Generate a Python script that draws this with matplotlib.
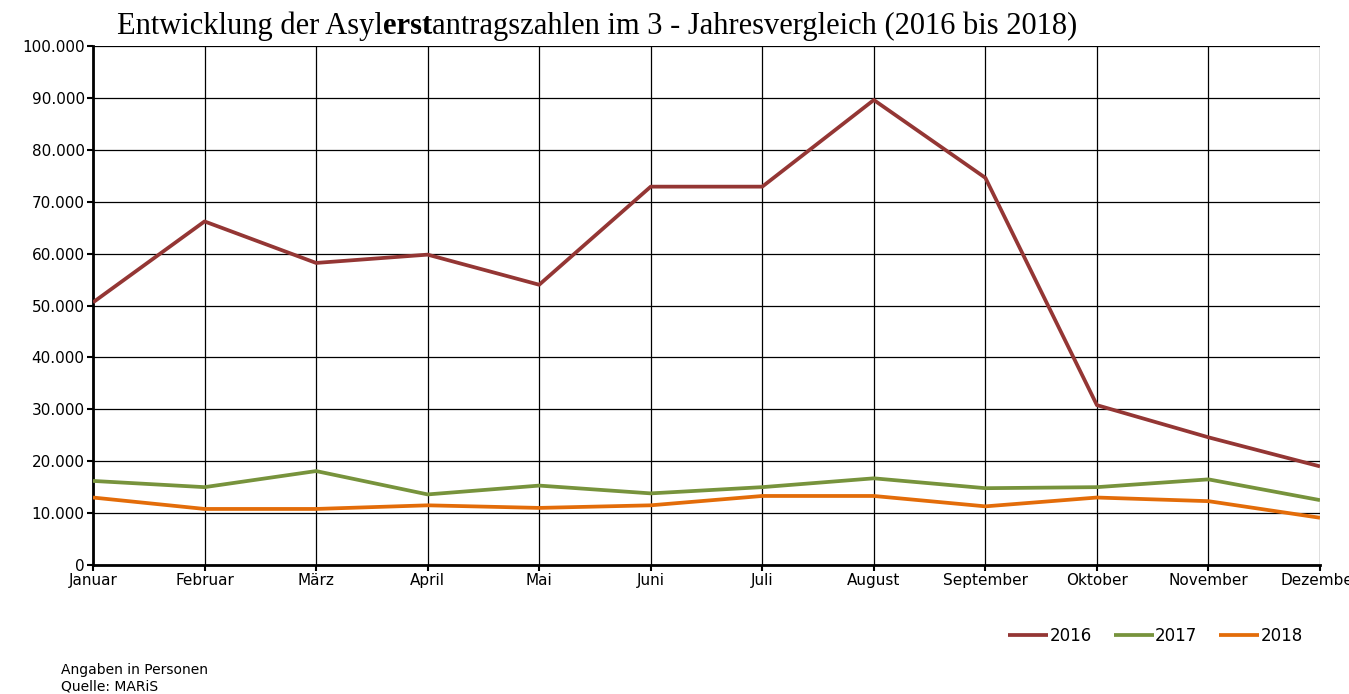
import matplotlib.pyplot as plt
from matplotlib.ticker import FuncFormatter, MultipleLocator

months = ["Januar", "Februar", "März", "April", "Mai", "Juni", "Juli",
          "August", "September", "Oktober", "November", "Dezember"]
y2016 = [50600, 66200, 58200, 59800, 54000, 72900, 72900, 89600, 74600, 30800, 24600, 19000]
y2017 = [16200, 15000, 18100, 13600, 15300, 13800, 15000, 16700, 14800, 15000, 16500, 12500]
y2018 = [13000, 10800, 10800, 11500, 11000, 11500, 13300, 13300, 11300, 13000, 12300, 9100]

colors = {"2016": "#943634", "2017": "#77933C", "2018": "#E36C09"}

fig = plt.figure(figsize=(13.49, 6.94), dpi=100)
ax = fig.add_axes([93 / 1349, 1 - 565 / 694, 1227 / 1349, 519 / 694])

x = list(range(len(months)))
for label, vals in [("2016", y2016), ("2017", y2017), ("2018", y2018)]:
    ax.plot(x, vals, color=colors[label], lw=2.7, label=label, solid_capstyle="butt", zorder=3)

ax.set_xlim(0, 11)
ax.set_ylim(0, 100000)
ax.yaxis.set_major_locator(MultipleLocator(10000))
ax.yaxis.set_major_formatter(FuncFormatter(lambda v, p: f"{int(v):,}".replace(",", ".")))
ax.set_xticks(x)
ax.set_xticklabels(months)
ax.grid(True, color="black", lw=0.9)
ax.set_axisbelow(True)

for s in ["top", "right"]:
    ax.spines[s].set_visible(False)
ax.spines["left"].set_linewidth(2)
ax.spines["bottom"].set_linewidth(2)
ax.tick_params(axis="both", length=4, width=1.5, labelsize=11, pad=2, direction="out")
# the last month label runs off the right edge, as in the original
for lbl in ax.get_xticklabels():
    lbl.set_clip_on(False)

# title with bold "erst"
fig.canvas.draw()
r = fig.canvas.get_renderer()
parts = [("Entwicklung der Asyl", "normal"), ("erst", "bold"),
         ("antragszahlen im 3 - Jahresvergleich (2016 bis 2018)", "normal")]
xpos = 117
for txt, w in parts:
    t = fig.text(xpos / 1349, 1 - 34 / 694, txt, fontsize=22, family="Liberation Serif",
                 weight=w, ha="left", va="baseline")
    bb = t.get_window_extent(renderer=r)
    xpos = bb.x1

fig.legend(loc="center right", bbox_to_anchor=(1318 / 1349, 1 - 636 / 694), ncol=3,
           frameon=False, fontsize=12, handlelength=2.4, handletextpad=0.1,
           columnspacing=1.3)

fig.text(61 / 1349, 1 - 670 / 694, "Angaben in Personen", fontsize=10, va="center")
fig.text(61 / 1349, 1 - 686 / 694, "Quelle: MARiS", fontsize=10, va="center")

fig.savefig("out.png", dpi=100)
